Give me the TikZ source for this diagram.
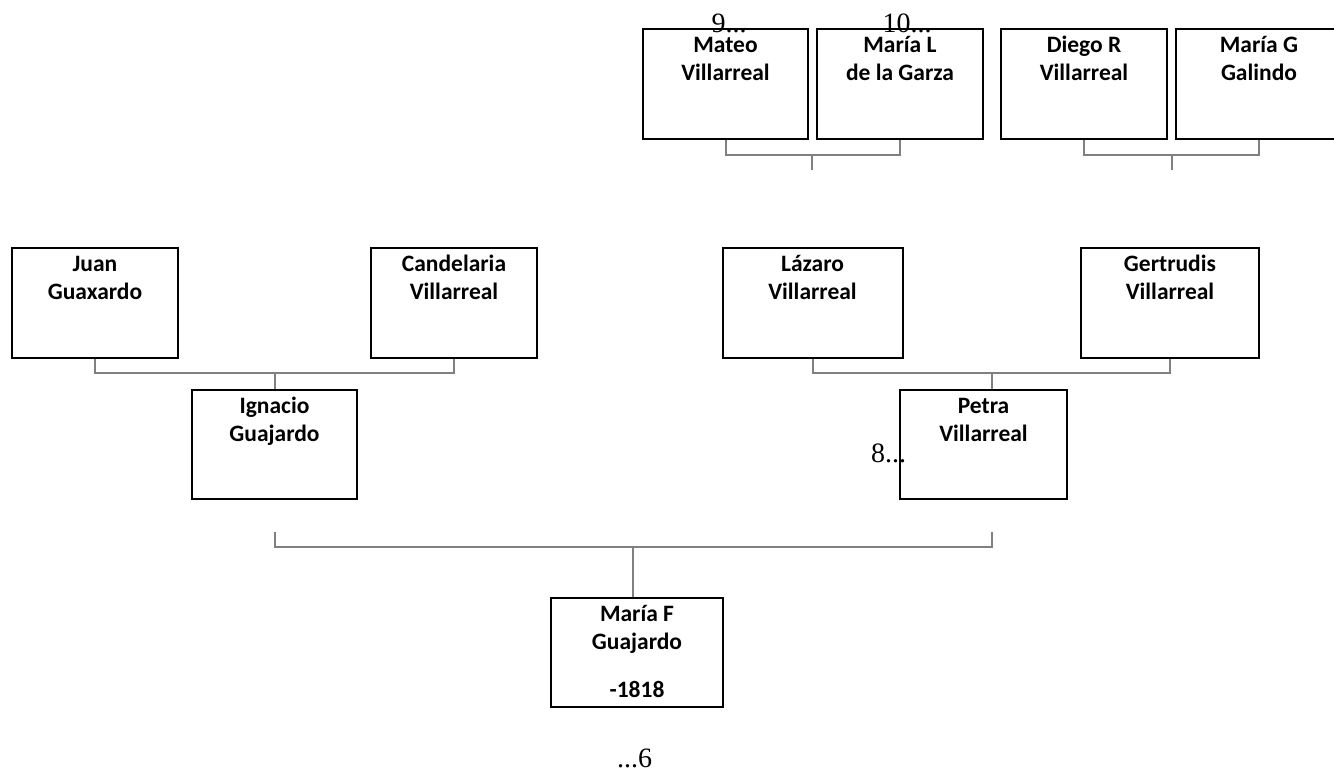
\documentclass[tikz,border=0pt]{standalone}
\usepackage{fontspec}
\setmainfont{Liberation Serif}
\newfontfamily\namefont{Carlito}
\usetikzlibrary{positioning}

\definecolor{linkgray}{RGB}{128,128,128}

\tikzset{
  personbox/.style={draw, line width=2pt, minimum height=110pt, inner sep=0pt},
  nametext/.style={inner sep=0pt, align=center,
    font=\namefont\bfseries\fontsize{23.5}{28}\selectfont},
  numtext/.style={inner sep=0pt, anchor=base,
    font=\fontsize{28}{32}\selectfont},
  link/.style={draw=linkgray, line width=2pt}
}

\begin{document}
\begin{tikzpicture}[x=1pt,y=-1pt]
  \useasboundingbox (0,0) rectangle (1334,772);
  \clip (0,0) rectangle (1334,772);

      % boxes
      \begin{scope}[every node/.style={personbox}]
        \node[minimum width=165pt] (mateo)      at (725.5,84)  {};
        \node[minimum width=166pt] (marial)     at (900,84)    {};
        \node[minimum width=166pt] (diegor)     at (1084,84)   {};
        \node[minimum width=166pt] (mariag)     at (1259,84)   {};
        \node[minimum width=166pt] (juan)       at (95,303)    {};
        \node[minimum width=166pt] (candelaria) at (454,303)   {};
        \node[minimum width=180pt] (lazaro)     at (812.5,303) {};
        \node[minimum width=178pt] (gertrudis)  at (1170,303)  {};
        \node[minimum width=165pt, minimum height=109pt] (ignacio) at (274.5,444.5) {};
        \node[minimum width=167pt, minimum height=109pt] (petra)   at (983.5,444.5) {};
        \node[minimum width=172pt, minimum height=109pt] (mariaf)  at (637,652.5)   {};
      \end{scope}

      % names
      \begin{scope}[every node/.style={nametext}]
        \node[below=4.4pt of mateo.north]      (mateo-t)      {\strut Mateo\\Villarreal};
        \node[below=4.4pt of marial.north]     (marial-t)     {\strut María L\\de la Garza};
        \node[below=4.4pt of diegor.north]     (diegor-t)     {\strut Diego R\\Villarreal};
        \node[below=4.4pt of mariag.north]     (mariag-t)     {\strut María G\\Galindo};
        \node[below=4.4pt of juan.north]       (juan-t)       {\strut Juan\\Guaxardo};
        \node[below=4.4pt of candelaria.north] (candelaria-t) {\strut Candelaria\\Villarreal};
        \node[below=4.4pt of lazaro.north]     (lazaro-t)     {\strut Lázaro\\Villarreal};
        \node[below=4.4pt of gertrudis.north]  (gertrudis-t)  {\strut Gertrudis\\Villarreal};
        \node[below=4.4pt of ignacio.north]    (ignacio-t)    {\strut Ignacio\\Guajardo};
        \node[below=4.4pt of petra.north]      (petra-t)      {\strut Petra\\Villarreal};
        \node[below=4.4pt of mariaf.north]     (mariaf-t)     {\strut María F\\Guajardo\\[20pt]-1818};
      \end{scope}

      % page references
      \node[numtext] (ref9)  at (729,32)    {9...};
      \node[numtext] (ref10) at (907,32)    {10...};
      \node[numtext] (ref8)  at (888.5,462) {8...};
      \node[numtext] (ref6)  at (634.5,767) {...6};

      % joints
      \coordinate (topl)  at (812,155);
      \coordinate (topl-end) at (812,170);
      \coordinate (topr)  at (1172,155);
      \coordinate (topr-end) at (1172,170);
      \coordinate (midl)  at (275,373);
      \coordinate (midr)  at (992,373);
      \coordinate (lowl)  at (275,532);
      \coordinate (lowr)  at (992,532);
      \coordinate (lowc)  at (633,547);

      % links
      \draw[link] (mateo.south) |- (topl) -| (marial.south);
      \draw[link] (topl) -- (topl-end);
      \draw[link] (diegor.south) |- (topr) -| (mariag.south);
      \draw[link] (topr) -- (topr-end);
      \draw[link] (juan.south) |- (midl) -| (candelaria.south);
      \draw[link] (midl) -- (midl |- ignacio.north);
      \draw[link] (lazaro.south) |- (midr) -| (gertrudis.south);
      \draw[link] (midr) -- (midr |- petra.north);
      \draw[link] (lowl) |- (lowc) -| (lowr);
      \draw[link] (lowc) -- (lowc |- mariaf.north);

    \end{tikzpicture}
\end{document}
